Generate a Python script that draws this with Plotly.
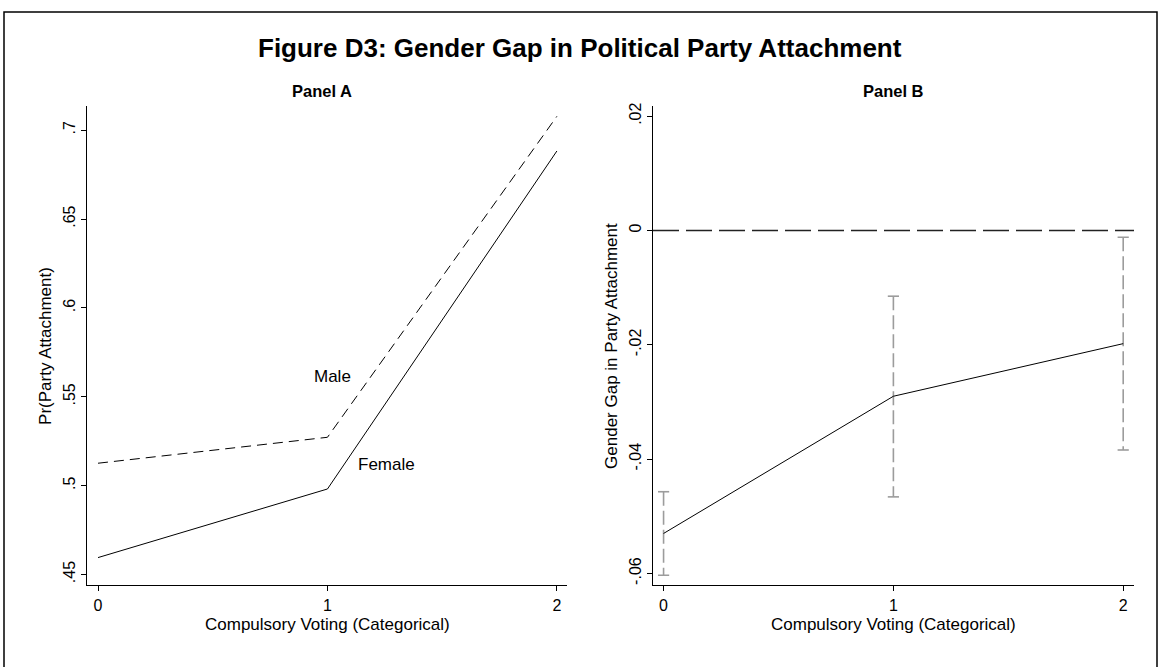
import plotly.graph_objects as go

# ---------------- data ----------------
categories = [0, 1, 2]
cat_text = ["0", "1", "2"]
male = [0.5126, 0.5272, 0.7078]
female = [0.4595, 0.4981, 0.6883]
gap = [-0.0530, -0.0290, -0.0198]
gap_lo = [-0.0603, -0.0466, -0.0384]
gap_hi = [-0.0457, -0.0115, -0.0012]
ytick_a = [0.45, 0.5, 0.55, 0.6, 0.65, 0.7]
ytick_a_text = [".45", ".5", ".55", ".6", ".65", ".7"]
ytick_b = [-0.06, -0.04, -0.02, 0, 0.02]
ytick_b_text = ["-.06", "-.04", "-.02", "0", ".02"]

W, H = 1161, 667
FONT = "Liberation Sans, Arial, Helvetica, sans-serif"
FS_TICK = 16
FS_TITLE = 17


def px_x(p):
    return p / W


def px_y(p):
    return 1 - p / H


fig = go.Figure()

# Panel A
fig.add_trace(go.Scatter(x=categories, y=male, mode="lines", xaxis="x", yaxis="y",
                         line=dict(color="black", width=1, dash="10px,6px"),
                         showlegend=False, hoverinfo="skip"))
fig.add_trace(go.Scatter(x=categories, y=female, mode="lines", xaxis="x", yaxis="y",
                         line=dict(color="black", width=1),
                         showlegend=False, hoverinfo="skip"))

# Panel B: confidence intervals (dashed gray) with caps
GRAY = "#9c9c9c"
for c, lo, hi in zip(categories, gap_lo, gap_hi):
    fig.add_trace(go.Scatter(x=[c, c], y=[hi, lo], mode="lines", xaxis="x2", yaxis="y2",
                             line=dict(color=GRAY, width=1.6, dash="14px,5px"),
                             showlegend=False, hoverinfo="skip"))
fig.add_trace(go.Scatter(x=categories + categories, y=gap_lo + gap_hi, mode="markers",
                         xaxis="x2", yaxis="y2",
                         marker=dict(symbol="line-ew-open", size=8, color=GRAY,
                                     line=dict(color=GRAY, width=1.6)),
                         showlegend=False, hoverinfo="skip"))
fig.add_trace(go.Scatter(x=categories, y=gap, mode="lines", xaxis="x2", yaxis="y2",
                         line=dict(color="black", width=1),
                         showlegend=False, hoverinfo="skip"))

# zero reference line
fig.add_shape(type="line", xref="x2 domain", yref="y2", x0=0, x1=1, y0=0, y1=0,
              line=dict(color="#222222", width=1.6, dash="26px,7px"))

# outer frame
fig.add_shape(type="rect", xref="paper", yref="paper",
              x0=px_x(4), x1=px_x(1157), y0=-0.2, y1=px_y(8),
              line=dict(color="black", width=1.5), fillcolor="rgba(0,0,0,0)")

axis_common = dict(showline=True, linecolor="black", linewidth=1, ticks="outside",
                   ticklen=5, tickcolor="black", tickwidth=1, showgrid=False,
                   zeroline=False, mirror=False,
                   tickfont=dict(family=FONT, size=FS_TICK, color="black"))

ydom = [px_y(585), px_y(103)]
fig.update_layout(
    width=W, height=H,
    margin=dict(l=0, r=0, t=0, b=0),
    paper_bgcolor="white", plot_bgcolor="white",
    xaxis=dict(domain=[px_x(87), px_x(567)], range=[-0.048, 2.044],
               tickvals=categories, ticktext=cat_text, anchor="y", **axis_common),
    yaxis=dict(domain=ydom, range=[0.4438, 0.7134], tickvals=ytick_a,
               ticktext=ytick_a_text, tickangle=-90, anchor="x", **axis_common),
    xaxis2=dict(domain=[px_x(653), px_x(1134)], range=[-0.046, 2.047],
                tickvals=categories, ticktext=cat_text, anchor="y2", **axis_common),
    yaxis2=dict(domain=ydom, range=[-0.0621, 0.0217], tickvals=ytick_b,
                ticktext=ytick_b_text, tickangle=-90, anchor="x2", **axis_common),
)

ann = []
ann.append(dict(text="<b>Figure D3: Gender Gap in Political Party Attachment</b>",
                x=px_x(580), y=px_y(44), xref="paper", yref="paper",
                showarrow=False, xanchor="center", yanchor="middle",
                font=dict(family=FONT, size=26, color="black")))
for txt, cx in [("<b>Panel A</b>", 322), ("<b>Panel B</b>", 893)]:
    ann.append(dict(text=txt, x=px_x(cx), y=px_y(88), xref="paper", yref="paper",
                    showarrow=False, xanchor="center", yanchor="middle",
                    font=dict(family=FONT, size=16.5, color="black")))
for cx in [327, 893]:
    ann.append(dict(text="Compulsory Voting (Categorical)", x=px_x(cx), y=px_y(624),
                    xref="paper", yref="paper", showarrow=False,
                    xanchor="center", yanchor="middle",
                    font=dict(family=FONT, size=FS_TITLE, color="black")))
for txt, cx in [("Pr(Party Attachment)", 46), ("Gender Gap in Party Attachment", 612)]:
    ann.append(dict(text=txt, x=px_x(cx), y=px_y(344), xref="paper", yref="paper",
                    showarrow=False, xanchor="center", yanchor="middle", textangle=-90,
                    font=dict(family=FONT, size=FS_TITLE, color="black")))
# series labels in panel A
ann.append(dict(text="Male", x=1.024, y=0.5613, xref="x", yref="y", showarrow=False,
                xanchor="center", yanchor="middle",
                font=dict(family=FONT, size=FS_TITLE, color="black")))
ann.append(dict(text="Female", x=1.259, y=0.5121, xref="x", yref="y", showarrow=False,
                xanchor="center", yanchor="middle",
                font=dict(family=FONT, size=FS_TITLE, color="black")))
fig.update_layout(annotations=ann)

fig.write_html("out.html", config={"displayModeBar": False},
               post_script="document.body.style.margin='0';document.body.style.overflow='hidden';")
